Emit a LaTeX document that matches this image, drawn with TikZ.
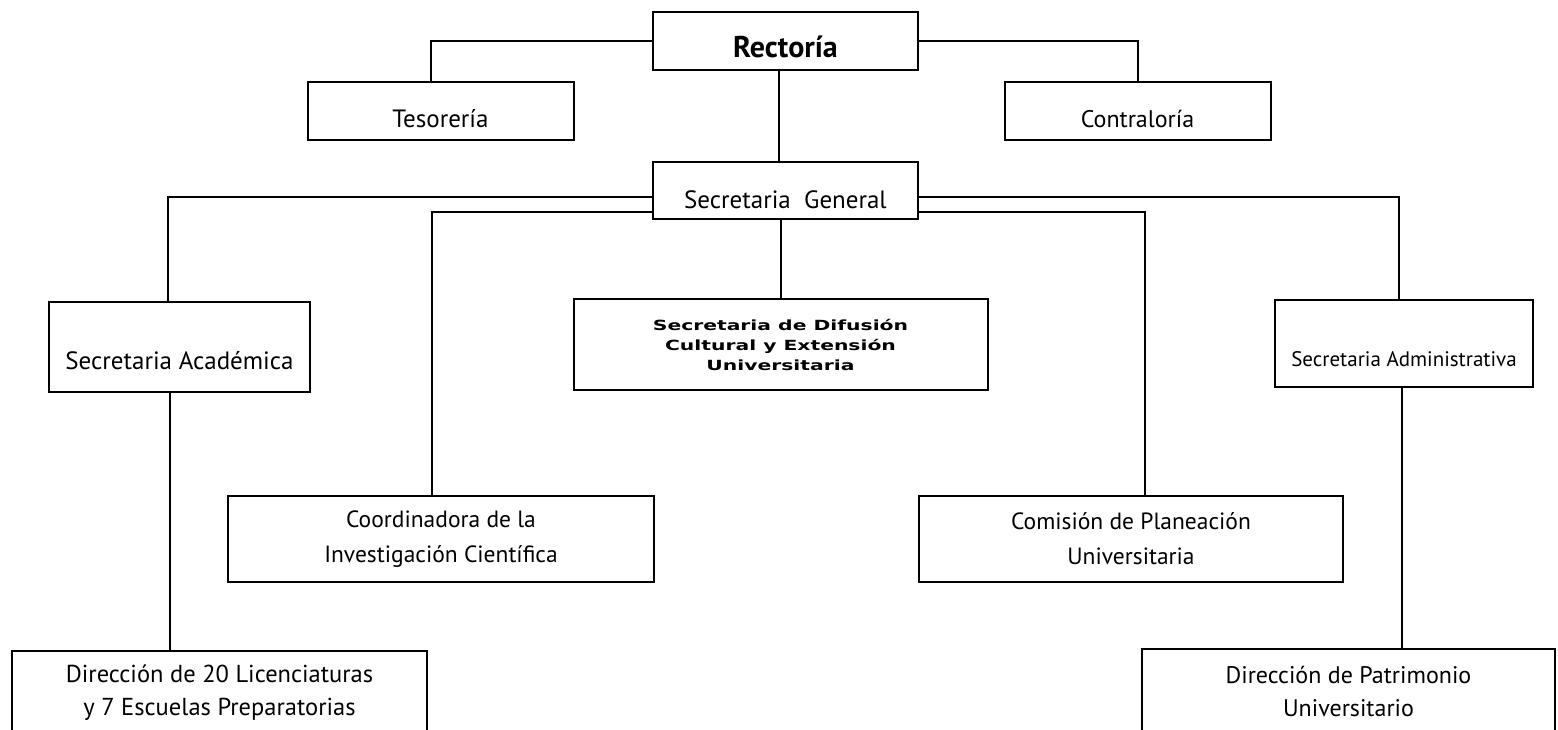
\documentclass[tikz,border=0pt]{standalone}
\usepackage{fontspec}
\setmainfont{PT Sans}
\newfontfamily\widefont[FakeStretch=1.45]{DejaVu Sans}
\usepackage{tikz}
\usetikzlibrary{positioning}

\begin{document}
\begin{tikzpicture}[x=1pt, y=-1pt,
    office/.style 2 args={draw,
      line width=2pt,
      minimum width=#1,
      minimum height=#2,
      inner sep=0pt,
      align=center},
    drop/.style={text height=#1, text depth=0pt},
    link/.style={line width=2pt}]
  \useasboundingbox (0,0) rectangle (1558,729);

  % TOP

  \node [office={265pt}{58pt}, drop=33pt,
    font=\fontsize{30}{34}\selectfont\bfseries] (rectoria) at (785.5,41) {Rectoría};

  \node [office={266pt}{58pt}, drop=33pt,
    font=\fontsize{25}{28}\selectfont,
    below=10pt of rectoria.south, 
    xshift=-345pt] (tesoreria) {Tesorería};

  \node [office={266pt}{58pt}, drop=33pt,
    font=\fontsize{24}{28}\selectfont,
    below=10pt of rectoria.south, 
    xshift=352pt] (contraloria) {Contraloría};

  \node [office={265pt}{57pt}, drop=35pt,
    font=\fontsize{25}{28}\selectfont,
    below=90pt of rectoria.south] (general) {Secretaria\ \ General};

  % SECRETARIAS

  \node [office={261pt}{90pt}, drop=45pt,
    font=\fontsize{25}{28}\selectfont,
    below=81pt of general.south, 
    xshift=-606pt] (academica) {Secretaria Académica};

  \node [office={414pt}{91pt},
    font=\fontsize{14}{20}\selectfont\widefont\bfseries,
    below=78pt of general.south, 
    xshift=-5pt] (difusion) {Secretaria de Difusión\\ 
    Cultural y Extensión\\ 
    Universitaria};

  \node [office={258pt}{87pt}, drop=46pt,
    font=\fontsize{21}{24}\selectfont,
    below=79pt of general.south, 
    xshift=618.5pt] (administrativa) {Secretaria Administrativa};

  \node [office={426pt}{86pt},
    font=\fontsize{23.5}{35}\selectfont,
    below=275pt of general.south, 
    xshift=-344.5pt] (coordinadora) {Coordinadora de la\\ 
    Investigación Científica};

  \node [office={424pt}{86pt},
    font=\fontsize{23.5}{35}\selectfont,
    below=275pt of general.south, 
    xshift=345.5pt] (comision) {Comisión de Planeación\\ 
    Universitaria};

  % DIRECCIONES

  \node [office={415pt}{83pt},
    font=\fontsize{24.5}{33}\selectfont,
    below=257pt of academica.south, 
    xshift=40pt] (licenciaturas) {Dirección de 20 Licenciaturas\\ 
    y 7 Escuelas Preparatorias};

  \node [office={413pt}{85pt},
    font=\fontsize{24}{33}\selectfont,
    below=260pt of administrativa.south, 
    xshift=-55.5pt] (patrimonio) {Dirección de Patrimonio\\ 
    Universitario};

  % LINES

  \draw[link] (rectoria.west) -| ([xshift=-10pt]tesoreria.north);
  \draw[link] (rectoria.east) -| (contraloria.north);
  \draw[link] ([xshift=-7pt]rectoria.south) -- ([xshift=-7pt]general.north);

  \draw[link] ([yshift=-6pt]general.west) -| ([xshift=-12pt]academica.north);
  \draw[link] ([yshift=-21pt]general.west) -| ([xshift=-9pt]coordinadora.north);
  \draw[link] ([yshift=-6pt]general.east) -| ([xshift=-5pt]administrativa.north);
  \draw[link] ([yshift=-21pt]general.east) -| ([xshift=14pt]comision.north);
  \draw[link] (difusion.north |- general.south) -- (difusion.north);

  \draw[link] ([xshift=-10pt]academica.south) 
  -- ([xshift=-10pt]academica.south |- licenciaturas.north);
  \draw[link] ([xshift=-2pt]administrativa.south) 
  -- ([xshift=-2pt]administrativa.south |- patrimonio.north);

\end{tikzpicture}
\end{document}
